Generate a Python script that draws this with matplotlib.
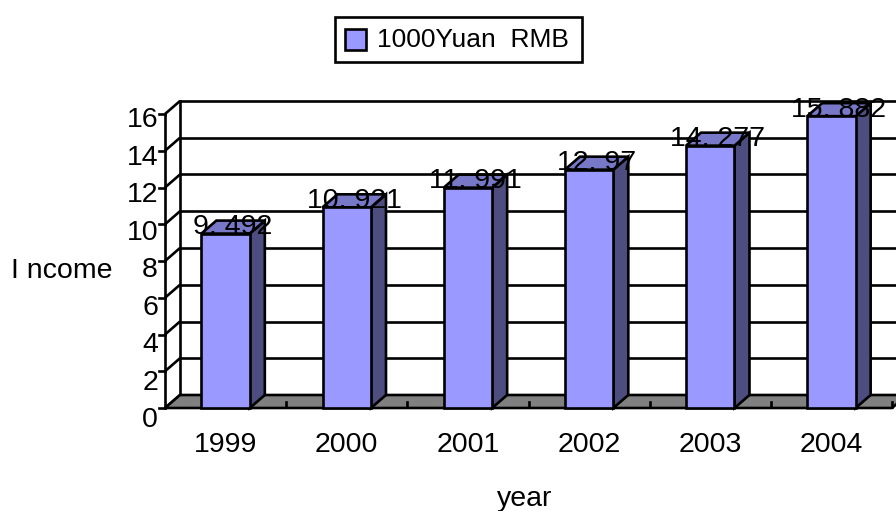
import matplotlib
matplotlib.use("Agg")
import matplotlib.pyplot as plt
from matplotlib.patches import Polygon, Rectangle

years = ["1999", "2000", "2001", "2002", "2003", "2004"]
income = [9.492, 10.921, 11.991, 12.97, 14.277, 15.882]
value_labels = ["9. 492", "10. 921", "11. 991", "12. 97", "14. 277", "15. 882"]
yticks = [0, 2, 4, 6, 8, 10, 12, 14, 16]
legend_label = "1000Yuan  RMB"
ylabel = "I ncome"
xlabel = "year"

plt.rcParams['font.family'] = ['Liberation Sans', 'DejaVu Sans']

W, H = 896, 511
fig = plt.figure(figsize=(W / 100, H / 100), dpi=100)
ax = fig.add_axes([0, 0, 1, 1])

# geometry of front plane in pixels
x0px, x1px = 165, 892
y0px, ytop_px = 408, 114
n = len(years)
ymax = yticks[-1]
sx = (x1px - x0px) / n
sy = (y0px - ytop_px) / ymax


def X(px):
    return (px - x0px) / sx


def Y(py):
    return (y0px - py) / sy


ax.set_xlim(X(0), X(W))
ax.set_ylim(Y(H), Y(0))
ax.axis('off')

dx = 15 / sx
dy = 13 / sy
lw = 1.9
FS = 20.5

# walls / gridlines
for t in yticks:
    ax.plot([0, dx], [t, t + dy], color='black', lw=lw, zorder=2, solid_capstyle='butt')
    ax.plot([dx, X(W) + 1], [t + dy, t + dy], color='black', lw=lw, zorder=2)
    ax.plot([-6 / sx, 0], [t, t], color='black', lw=lw, zorder=2)
    off = (12 - 6 * t / ymax) / sy
    ax.text(X(158), t - off, str(t), ha='right', va='center', fontsize=FS, zorder=5)
ax.plot([dx, dx], [dy, ymax + dy], color='black', lw=lw, zorder=2)
ax.plot([0, 0], [0, ymax], color='black', lw=lw, zorder=3)

# floor
floor = Polygon([(0, 0), (n, 0), (n + dx, dy), (dx, dy)], closed=True,
                facecolor='#808080', edgecolor='black', lw=lw, zorder=3)
ax.add_patch(floor)
for i in range(1, n + 1):
    ax.plot([i, i], [1 / sy, 6 / sy], color='black', lw=lw, zorder=3)

# bars
bw = 0.40
front_c = '#9999FF'
top_c = '#7878C8'
side_c = '#4D4D80'
for i, v in enumerate(income):
    xa = i + 0.5 - bw / 2
    xb = i + 0.5 + bw / 2
    side = Polygon([(xb, 0), (xb + dx, dy), (xb + dx, v + dy), (xb, v)], closed=True,
                   facecolor=side_c, edgecolor='black', lw=lw, zorder=4)
    top = Polygon([(xa, v), (xb, v), (xb + dx, v + dy), (xa + dx, v + dy)], closed=True,
                  facecolor=top_c, edgecolor='black', lw=lw, zorder=4)
    front = Rectangle((xa, 0), bw, v, facecolor=front_c, edgecolor='black', lw=lw, zorder=4)
    ax.add_patch(side)
    ax.add_patch(top)
    ax.add_patch(front)
    ax.text(i + 0.5 + dx / 2, v + dy / 2, value_labels[i], ha='center', va='center',
            fontsize=FS, zorder=6)
    ax.text(i + 0.5, Y(452), years[i], ha='center', va='baseline', fontsize=FS, zorder=6)

# axis titles
ax.text(X(11), Y(278), ylabel, ha='left', va='baseline', fontsize=FS)
ax.text(X(525), Y(506), xlabel, ha='center', va='baseline', fontsize=FS)

# legend
lx0, ly0, lx1, ly1 = 335, 17, 582, 62
ax.add_patch(Rectangle((X(lx0), Y(ly1)), X(lx1) - X(lx0), Y(ly0) - Y(ly1),
                       facecolor='white', edgecolor='black', lw=lw, zorder=6))
ax.add_patch(Rectangle((X(345), Y(50)), X(366) - X(345), Y(29) - Y(50),
                       facecolor=front_c, edgecolor='black', lw=lw, zorder=7))
ax.text(X(377), Y(40), legend_label, ha='left', va='center', fontsize=19, zorder=7)

fig.savefig('out.png', dpi=100)
